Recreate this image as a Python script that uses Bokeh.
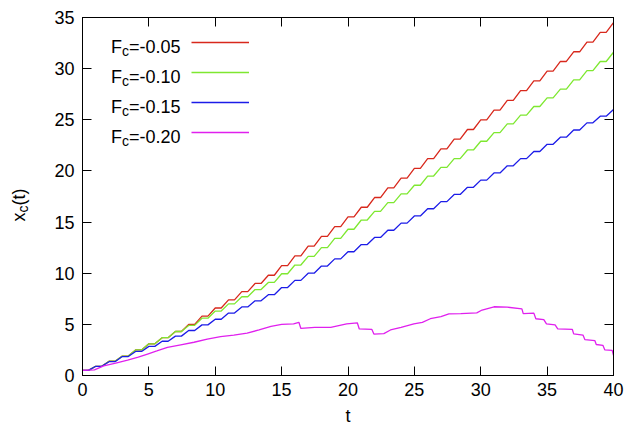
from math import pi
from bokeh.plotting import figure
from bokeh.layouts import row
from bokeh.models import (LinearAxis, Label, Legend, LegendItem, Range1d,
                          FixedTicker, CustomJSTickFormatter)
from bokeh.embed import file_html
from bokeh.resources import INLINE

# ---------------- data ----------------
x_ticks = [0, 5, 10, 15, 20, 25, 30, 35, 40]
y_ticks = [0, 5, 10, 15, 20, 25, 30, 35]

# plateau level of each step, one step per unit of t (t = 0..40)
step_t = list(range(0, 41))
red_levels = [0.5, 0.9, 1.4, 1.9, 2.5, 3.1, 3.7, 4.3, 5.0, 5.8,
              6.6, 7.4, 8.2, 9.0, 9.8, 10.75, 11.7, 12.65, 13.6, 14.55,
              15.5, 16.45, 17.4, 18.35, 19.3, 20.25, 21.2, 22.15, 23.1, 24.05,
              25.0, 25.95, 26.9, 27.85, 28.8, 29.75, 30.7, 31.65, 32.6, 33.55,
              34.5]
green_levels = [0.5, 0.9, 1.4, 1.9, 2.5, 3.1, 3.7, 4.3, 4.9, 5.6,
                6.3, 7.0, 7.7, 8.4, 9.1, 9.95, 10.8, 11.65, 12.5, 13.4,
                14.3, 15.2, 16.05, 16.9, 17.75, 18.6, 19.5, 20.35, 21.2, 22.05,
                22.9, 23.75, 24.6, 25.45, 26.3, 27.15, 28.0, 28.9, 29.8, 30.7,
                31.6]
blue_levels = [0.5, 0.9, 1.35, 1.85, 2.35, 2.85, 3.35, 3.85, 4.4, 4.95,
               5.5, 6.1, 6.7, 7.3, 7.9, 8.6, 9.3, 10.0, 10.7, 11.4,
               12.1, 12.8, 13.5, 14.2, 14.9, 15.6, 16.3, 17.0, 17.7, 18.4,
               19.1, 19.8, 20.5, 21.2, 21.9, 22.6, 23.3, 24.0, 24.7, 25.35,
               26.0]
mag_t = [0.0, 0.9, 1.6, 2.5, 3.4, 4.2, 4.9, 5.6, 6.4, 7.4,
         8.4, 9.4, 10.4, 11.4, 12.4, 13.3, 14.2, 15.0, 15.9, 16.3,
         16.45, 17.5, 18.7, 19.9, 20.7, 20.85, 21.8, 21.95, 22.7, 23.2,
         24.0, 24.96, 25.6, 26.2, 27.0, 27.6, 28.5, 29.7, 30.1, 31.0,
         32.0, 33.1, 33.2, 34.0, 34.15, 34.75, 34.95, 35.6, 35.8, 36.9,
         37.0, 37.7, 37.85, 38.6, 38.7, 39.2, 39.35, 39.9, 40.0]
mag_y = [0.5, 0.55, 0.95, 1.2, 1.5, 1.8, 2.1, 2.4, 2.75, 3.0,
         3.25, 3.55, 3.8, 3.95, 4.15, 4.45, 4.8, 5.0, 5.05, 5.2,
         4.6, 4.7, 4.7, 5.05, 5.15, 4.55, 4.5, 4.05, 4.1, 4.45,
         4.7, 5.05, 5.2, 5.55, 5.75, 6.03, 6.05, 6.13, 6.4, 6.72,
         6.68, 6.52, 6.05, 6.1, 5.55, 5.47, 5.05, 4.95, 4.56, 4.5,
         4.07, 3.95, 3.5, 3.4, 3.03, 2.95, 2.5, 2.45, 1.96]
fc_values = ["-0.05", "-0.10", "-0.15", "-0.20"]
colors = ["#d8281c", "#7ee830", "#1c1ce8", "#e020ee"]

FONT = "Liberation Sans"
FS = "18px"
YL_W = 42  # width of the strip that holds the y-axis title


def staircase(levels):
    xs, ys = [], []
    for k in range(len(levels) - 1):
        xs += [step_t[k], step_t[k] + 0.45]
        ys += [levels[k], levels[k]]
    xs.append(step_t[-1])
    ys.append(levels[-1])
    return xs, ys


p = figure(width=626 - YL_W, height=430, x_range=Range1d(0, 40),
           y_range=Range1d(0, 35), output_backend="svg", toolbar_location=None)
p.min_border = 0
p.min_border_left = 82 - YL_W
p.min_border_right = 13
p.min_border_top = 17
p.min_border_bottom = 55
p.grid.visible = False
p.outline_line_color = "black"
p.outline_line_width = 1
p.background_fill_color = "white"
p.border_fill_color = "white"

renderers = []
for lv, c in zip([red_levels, green_levels, blue_levels], colors[:3]):
    xs, ys = staircase(lv)
    renderers.append(p.line(xs, ys, line_color=c, line_width=1.3))
renderers.append(p.line(mag_t, mag_y, line_color=colors[3], line_width=1.3))


def style_axis(ax, ticks, show_labels):
    ax.ticker = FixedTicker(ticks=ticks)
    ax.major_tick_in = 9
    ax.major_tick_out = 0
    ax.minor_tick_line_color = None
    ax.major_tick_line_color = "black"
    ax.axis_line_color = "black"
    ax.major_label_text_font = FONT
    ax.major_label_text_color = "black"
    if show_labels:
        ax.major_label_text_font_size = FS
        ax.major_label_standoff = 8
    else:
        ax.formatter = CustomJSTickFormatter(code="return ''")
        ax.major_label_text_font_size = "1px"
        ax.major_label_standoff = 0


style_axis(p.xaxis[0], x_ticks, True)
style_axis(p.yaxis[0], y_ticks, True)
p.xaxis[0].major_label_standoff = 7
p.xaxis[0].axis_label = "t"
p.xaxis[0].axis_label_text_font = FONT
p.xaxis[0].axis_label_text_font_size = FS
p.xaxis[0].axis_label_text_font_style = "normal"
p.xaxis[0].axis_label_text_color = "black"
p.xaxis[0].axis_label_standoff = 7
top = LinearAxis()
right = LinearAxis()
style_axis(top, x_ticks, False)
style_axis(right, y_ticks, False)
p.add_layout(top, "above")
p.add_layout(right, "right")

# legend: line samples via Bokeh legend, text via labels
legend = Legend(items=[LegendItem(label=" ", renderers=[r]) for r in renderers],
                location=(109, 228), glyph_width=58, glyph_height=30,
                label_height=30, label_width=0, label_standoff=0, spacing=0,
                padding=0, margin=0, label_text_font_size="1px",
                border_line_alpha=0, background_fill_alpha=0)
p.add_layout(legend)

x_end = 7.38
for i, fc in enumerate(fc_values):
    base = 32.07 - 2.933 * i
    p.add_layout(Label(x=x_end, y=base, text="=" + fc, text_align="right",
                       text_baseline="alphabetic", text_font=FONT,
                       text_font_size=FS, text_color="black"))
    p.add_layout(Label(x=x_end, y=base, text="c", text_align="right",
                       text_baseline="alphabetic", text_font=FONT,
                       text_font_size="14px", text_color="black",
                       x_offset=-51.5, y_offset=-4))
    p.add_layout(Label(x=x_end, y=base, text="F", text_align="right",
                       text_baseline="alphabetic", text_font=FONT,
                       text_font_size=FS, text_color="black",
                       x_offset=-58.5))

# strip on the left holding the rotated y-axis title x_c(t)
yl = figure(width=YL_W, height=430, x_range=Range1d(0, 1), y_range=Range1d(0, 1),
            output_backend="svg", toolbar_location=None,
            x_axis_location=None, y_axis_location=None)
yl.min_border = 0
yl.grid.visible = False
yl.outline_line_color = None
yl.background_fill_color = "white"
yl.border_fill_color = "white"
ylx, yly = 18, 154
for txt, fs, dx, dy in [("x", FS, 0, 0), ("c", "14px", 4, 9), ("(t)", FS, 0, 16)]:
    yl.add_layout(Label(x=ylx, y=yly, x_units="screen", y_units="screen",
                        text=txt, angle=pi / 2, text_align="left",
                        text_baseline="alphabetic", text_font=FONT,
                        text_font_size=fs, text_color="black",
                        x_offset=dx, y_offset=dy))

layout = row(yl, p, spacing=0)
open("out.html", "w").write(file_html(layout, INLINE))
